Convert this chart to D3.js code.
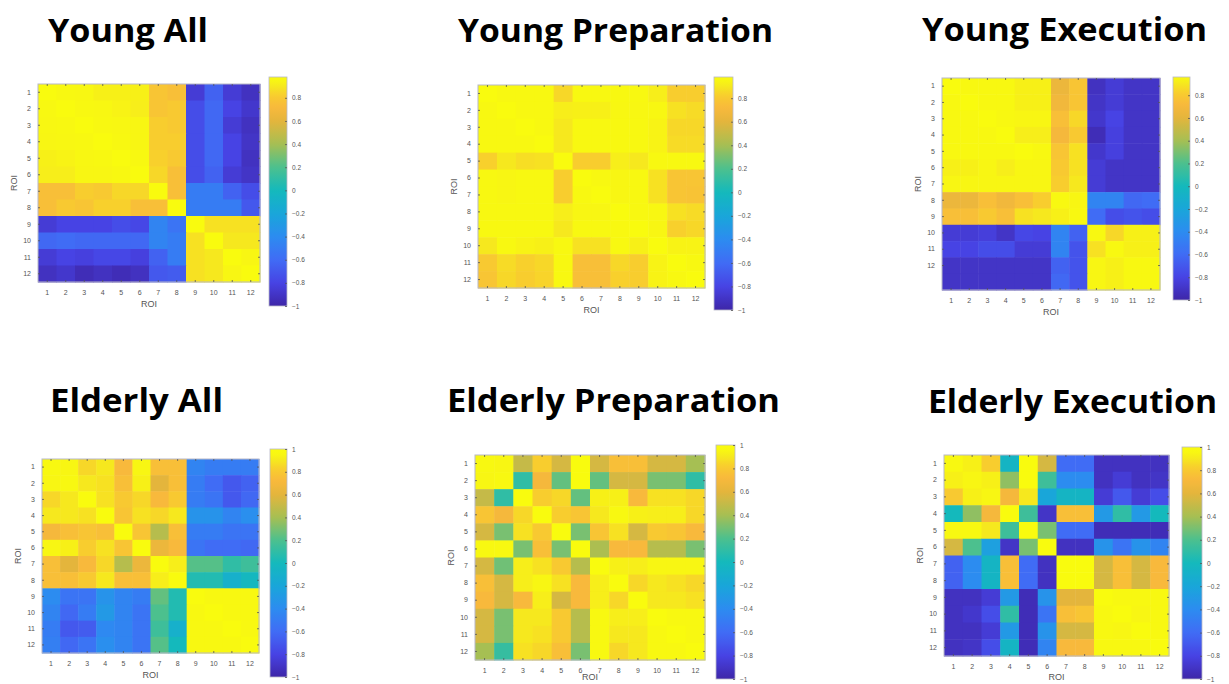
<!DOCTYPE html>
<html>
<head>
<meta charset="utf-8">
<script src="https://cdn.jsdelivr.net/npm/d3@7"></script>
<style>
  body { margin: 0; background: #fff; }
  svg { display: block; }
  .tick text { fill: #555; }
</style>
</head>
<body>
<svg id="chart" width="1229" height="684"></svg>
<script>
// ROI tick labels
const roiLabels = ["1","2","3","4","5","6","7","8","9","10","11","12"]
const cbTicksYoung = [0.8, 0.6, 0.4, 0.2, 0, -0.2, -0.4, -0.6, -0.8, -1]
const cbTicksElderly = [1, 0.8, 0.6, 0.4, 0.2, 0, -0.2, -0.4, -0.6, -0.8, -1]

// correlation matrices (rows = ROI)
const youngAll = [
  [1.00,0.97,0.96,0.93,0.93,0.93,0.78,0.75,-0.85,-0.65,-0.85,-0.92],
  [0.97,1.00,0.97,0.96,0.94,0.92,0.78,0.80,-0.75,-0.62,-0.80,-0.88],
  [0.96,0.97,1.00,0.97,0.96,0.95,0.82,0.80,-0.75,-0.62,-0.85,-0.92],
  [0.95,0.96,0.97,1.00,0.97,0.95,0.82,0.82,-0.75,-0.62,-0.80,-0.90],
  [0.93,0.94,0.96,0.97,1.00,0.97,0.83,0.80,-0.75,-0.62,-0.80,-0.92],
  [0.92,0.92,0.95,0.95,0.97,1.00,0.85,0.75,-0.75,-0.65,-0.85,-0.90],
  [0.75,0.75,0.82,0.80,0.85,0.85,1.00,0.75,-0.50,-0.50,-0.65,-0.75],
  [0.75,0.80,0.78,0.83,0.83,0.75,0.75,1.00,-0.50,-0.50,-0.50,-0.70],
  [-0.85,-0.80,-0.80,-0.80,-0.75,-0.78,-0.45,-0.55,1.00,0.88,0.88,0.88],
  [-0.62,-0.60,-0.62,-0.62,-0.62,-0.62,-0.45,-0.50,0.88,1.00,0.90,0.90],
  [-0.85,-0.80,-0.82,-0.78,-0.78,-0.82,-0.65,-0.50,0.88,0.90,1.00,0.95],
  [-0.92,-0.88,-0.95,-0.92,-0.95,-0.92,-0.70,-0.68,0.88,0.90,0.95,1.00]
]
const youngPrep = [
  [1.00,0.97,0.97,0.97,0.85,0.97,0.97,0.97,0.97,0.92,0.82,0.82],
  [0.97,1.00,0.97,0.97,0.92,0.93,0.93,0.96,0.96,0.96,0.88,0.86],
  [0.97,0.97,1.00,0.97,0.90,0.97,0.97,0.97,0.97,0.94,0.85,0.85],
  [0.97,0.97,0.97,1.00,0.90,0.97,0.97,0.97,0.97,0.94,0.86,0.86],
  [0.83,0.90,0.87,0.88,1.00,0.82,0.82,0.92,0.90,0.97,0.97,0.97],
  [0.97,0.95,0.97,0.97,0.82,1.00,0.97,0.95,0.97,0.88,0.78,0.78],
  [0.97,0.95,0.97,0.97,0.82,0.97,1.00,0.95,0.97,0.88,0.78,0.77],
  [0.97,0.97,0.97,0.97,0.92,0.95,0.95,1.00,0.97,0.96,0.88,0.86],
  [0.97,0.97,0.97,0.97,0.90,0.97,0.97,0.97,1.00,0.95,0.83,0.85],
  [0.90,0.97,0.94,0.93,0.97,0.88,0.88,0.97,0.93,1.00,0.94,0.94],
  [0.80,0.86,0.83,0.85,0.97,0.75,0.75,0.85,0.82,0.94,1.00,0.97],
  [0.78,0.85,0.82,0.84,0.97,0.75,0.75,0.83,0.82,0.94,0.97,1.00]
]
// this one has an extra unlabelled row at the bottom
const youngExec = [
  [1.00,0.97,0.97,0.97,0.93,0.93,0.65,0.78,-0.92,-0.85,-0.90,-0.90],
  [0.97,1.00,0.97,0.97,0.93,0.93,0.68,0.78,-0.90,-0.85,-0.90,-0.90],
  [0.97,0.97,1.00,0.97,0.95,0.95,0.75,0.85,-0.88,-0.80,-0.90,-0.90],
  [0.97,0.97,0.97,1.00,0.92,0.92,0.70,0.80,-0.95,-0.82,-0.90,-0.90],
  [0.97,0.97,0.97,0.97,1.00,0.97,0.78,0.88,-0.88,-0.82,-0.90,-0.90],
  [0.93,0.93,0.95,0.92,0.95,0.95,0.80,0.88,-0.85,-0.90,-0.90,-0.90],
  [0.95,0.95,0.95,0.95,0.95,0.95,0.82,0.90,-0.85,-0.90,-0.90,-0.90],
  [0.65,0.65,0.75,0.68,0.75,0.82,0.97,0.95,-0.45,-0.45,-0.62,-0.60],
  [0.75,0.75,0.80,0.75,0.88,0.90,0.93,0.97,-0.60,-0.75,-0.72,-0.75],
  [-0.85,-0.85,-0.83,-0.90,-0.78,-0.80,-0.45,-0.65,0.97,0.85,0.93,0.93],
  [-0.80,-0.80,-0.75,-0.75,-0.85,-0.85,-0.45,-0.72,0.88,0.97,0.93,0.93],
  [-0.90,-0.90,-0.90,-0.90,-0.90,-0.90,-0.65,-0.72,0.95,0.93,0.97,0.97],
  [-0.90,-0.90,-0.90,-0.90,-0.90,-0.90,-0.62,-0.72,0.95,0.93,0.97,0.97]
]
const elderlyAll = [
  [0.97,0.95,0.85,0.90,0.72,0.95,0.75,0.75,-0.45,-0.50,-0.50,-0.50],
  [0.95,0.97,0.90,0.88,0.75,0.93,0.60,0.75,-0.50,-0.60,-0.70,-0.65],
  [0.85,0.90,1.00,0.88,0.80,0.85,0.72,0.80,-0.50,-0.55,-0.70,-0.62],
  [0.90,0.90,0.88,1.00,0.78,0.88,0.85,0.90,-0.35,-0.35,-0.45,-0.38],
  [0.70,0.75,0.78,0.75,1.00,0.78,0.45,0.75,-0.50,-0.50,-0.55,-0.55],
  [0.95,0.93,0.82,0.88,0.78,1.00,0.65,0.72,-0.55,-0.60,-0.60,-0.62],
  [0.75,0.60,0.72,0.85,0.45,0.65,1.00,0.92,0.22,0.22,0.10,0.15],
  [0.75,0.75,0.80,0.90,0.75,0.75,0.92,1.00,0.05,0.05,-0.10,-0.02],
  [-0.40,-0.55,-0.55,-0.35,-0.45,-0.50,0.25,0.05,1.00,0.97,0.97,0.97],
  [-0.45,-0.62,-0.50,-0.30,-0.45,-0.55,0.20,0.05,0.97,1.00,0.97,0.97],
  [-0.50,-0.70,-0.68,-0.42,-0.45,-0.55,0.15,-0.10,0.97,0.97,1.00,0.97],
  [-0.48,-0.62,-0.55,-0.38,-0.45,-0.55,0.22,0.00,0.97,0.97,0.97,1.00]
]
const elderlyPrep = [
  [0.97,0.95,0.50,0.82,0.55,1.00,0.55,0.75,0.75,0.55,0.55,0.40],
  [0.95,0.97,0.10,0.70,0.25,1.00,0.25,0.55,0.55,0.30,0.30,0.10],
  [0.50,0.10,1.00,0.82,0.85,0.25,0.93,0.93,0.72,0.88,0.88,0.85],
  [0.78,0.70,0.85,1.00,0.82,0.78,0.90,0.97,0.93,0.92,0.92,0.85],
  [0.55,0.30,0.88,0.80,1.00,0.30,0.78,0.88,0.55,0.80,0.78,0.72],
  [0.97,0.97,0.30,0.75,0.30,1.00,0.42,0.72,0.72,0.45,0.45,0.30],
  [0.55,0.28,0.92,0.88,0.80,0.45,1.00,0.93,0.92,0.95,0.95,0.95],
  [0.75,0.55,0.92,0.95,0.88,0.72,0.92,1.00,0.85,0.90,0.88,0.85],
  [0.72,0.55,0.72,0.92,0.55,0.72,0.92,0.85,1.00,0.90,0.90,0.88],
  [0.55,0.30,0.90,0.90,0.80,0.45,0.97,0.92,0.92,1.00,0.97,0.97],
  [0.55,0.30,0.90,0.88,0.80,0.45,0.97,0.90,0.90,0.97,1.00,0.97],
  [0.40,0.12,0.88,0.85,0.75,0.30,0.97,0.85,0.90,0.97,0.97,1.00]
]
const elderlyExec = [
  [0.97,0.93,0.82,-0.05,1.00,0.55,-0.60,-0.60,-0.92,-0.92,-0.92,-0.92],
  [0.93,0.95,0.93,0.35,1.00,0.15,-0.40,-0.40,-0.92,-0.85,-0.92,-0.90],
  [0.80,0.93,0.95,0.70,0.90,-0.20,-0.05,-0.05,-0.85,-0.70,-0.85,-0.75],
  [0.00,0.35,0.70,1.00,0.15,-0.90,0.75,0.75,-0.30,0.10,-0.30,0.00],
  [0.97,0.97,0.90,0.15,1.00,0.30,-0.60,-0.60,-0.95,-0.95,-0.95,-0.95],
  [0.55,0.20,-0.25,-0.90,0.30,1.00,-0.92,-0.92,-0.35,-0.55,-0.35,-0.45],
  [-0.65,-0.40,-0.05,0.75,-0.60,-0.92,1.00,1.00,0.55,0.75,0.55,0.72],
  [-0.65,-0.40,-0.05,0.75,-0.60,-0.92,1.00,1.00,0.55,0.75,0.55,0.72],
  [-0.92,-0.92,-0.85,-0.30,-0.95,-0.35,0.60,0.60,1.00,0.97,0.97,0.97],
  [-0.92,-0.88,-0.75,0.10,-0.95,-0.55,0.75,0.78,0.97,1.00,0.95,0.97],
  [-0.92,-0.92,-0.85,-0.30,-0.95,-0.35,0.55,0.55,0.97,0.95,1.00,0.97],
  [-0.92,-0.90,-0.75,-0.05,-0.95,-0.45,0.72,0.72,0.97,0.97,0.97,1.00]
]

const titles = ["Young All","Young Preparation","Young Execution","Elderly All","Elderly Preparation","Elderly Execution"]

// parula-ish colour map, steep near the top like the picture
const parulaVals = [-1, -0.8, -0.6, -0.4, -0.2, 0, 0.2, 0.4, 0.6, 0.72, 0.82, 0.9, 0.95, 1]
const parulaCols = ["#3e26a8","#4743e4","#406cf5","#2c8cf0","#19a6d9","#14b9bc","#4cc08e","#a6bf53","#e4b53c","#f8b93c","#f8cd2e","#f6e81e","#f8f613","#f9fb0e"]
const color = d3.scaleLinear().domain(parulaVals).range(parulaCols).interpolate(d3.interpolateRgb).clamp(true)

// layout: frame box, colorbar box, title box
const panels = [
  {data: youngAll,    fx:[38,260],  fy:[84,282],  cx:[269,287],  cy:[77,306],  cmax:0.98, ticks:cbTicksYoung,   tx:[48,208],   ty:42},
  {data: youngPrep,   fx:[478,705], fy:[85,288],  cx:[714,733],  cy:[77,310],  cmax:0.98, ticks:cbTicksYoung,   tx:[458,773],  ty:42},
  {data: youngExec,   fx:[942,1160],fy:[78,290],  cx:[1173,1190],cy:[77,300],  cmax:0.96, ticks:cbTicksYoung,   tx:[922,1207], ty:41},
  {data: elderlyAll,  fx:[42,259],  fy:[459,653], cx:[270,287],  cy:[449,677], cmax:1,    ticks:cbTicksElderly, tx:[50,223],   ty:412},
  {data: elderlyPrep, fx:[475,705], fy:[455,660], cx:[716,735],  cy:[445,679], cmax:1,    ticks:cbTicksElderly, tx:[447,780],  ty:412},
  {data: elderlyExec, fx:[944,1169],fy:[455,656], cx:[1182,1202],cy:[447,679], cmax:1,    ticks:cbTicksElderly, tx:[928,1217], ty:413}
]

const svg = d3.select("#chart")
const defs = svg.append("defs")

panels.forEach((p, k) => {
  const g = svg.append("g")
  const nRows = p.data.length
  const nCols = p.data[0].length

  const x = d3.scaleBand().domain(d3.range(nCols)).range(p.fx)
  const y = d3.scaleBand().domain(d3.range(nRows)).range(p.fy)

  const cells = []
  p.data.forEach((row, i) => row.forEach((v, j) => cells.push({i, j, v})))

  g.selectAll(".cell")
    .data(cells)
    .join("rect")
      .attr("class", "cell")
      .attr("x", d => x(d.j))
      .attr("y", d => y(d.i))
      .attr("width", x.bandwidth() + 0.5)
      .attr("height", y.bandwidth() + 0.5)
      .attr("fill", d => color(d.v))

  // frame
  g.append("rect")
    .attr("x", p.fx[0]).attr("y", p.fy[0])
    .attr("width", p.fx[1] - p.fx[0]).attr("height", p.fy[1] - p.fy[0])
    .attr("fill", "none").attr("stroke", "#b8b8c8").attr("stroke-width", 1)

  const tickIdx = d3.range(roiLabels.length)

  g.append("g")
    .attr("transform", `translate(0,${p.fy[1]})`)
    .call(d3.axisBottom(x).tickValues(tickIdx).tickFormat(i => roiLabels[i]).tickSizeInner(-2).tickSizeOuter(0).tickPadding(8))
  g.append("g")
    .attr("transform", `translate(${p.fx[0]},0)`)
    .call(d3.axisLeft(y).tickValues(tickIdx).tickFormat(i => roiLabels[i]).tickSizeInner(-2).tickSizeOuter(0).tickPadding(7))
  g.append("g")
    .attr("transform", `translate(0,${p.fy[0]})`)
    .call(d3.axisTop(x).tickValues(tickIdx).tickFormat("").tickSizeInner(-2).tickSizeOuter(0))
  g.append("g")
    .attr("transform", `translate(${p.fx[1]},0)`)
    .call(d3.axisRight(y).tickValues(tickIdx).tickFormat("").tickSizeInner(-2).tickSizeOuter(0))

  g.selectAll(".domain").remove()
  g.selectAll(".tick line").attr("stroke", "#555").attr("stroke-width", 0.8)
  g.selectAll(".tick text").style("font", "7px 'Liberation Sans', Arial, sans-serif")

  // axis titles
  g.append("text")
    .attr("x", (p.fx[0] + p.fx[1]) / 2)
    .attr("y", Math.min(p.fy[1] + 25, 680))
    .attr("text-anchor", "middle")
    .style("font", "9px 'Liberation Sans', Arial, sans-serif")
    .attr("fill", "#555")
    .text("ROI")
  g.append("text")
    .attr("transform", `translate(${p.fx[0] - 21},${(p.fy[0] + p.fy[1]) / 2}) rotate(-90)`)
    .attr("text-anchor", "middle")
    .style("font", "9px 'Liberation Sans', Arial, sans-serif")
    .attr("fill", "#555")
    .text("ROI")

  // colorbar
  const cb = d3.scaleLinear().domain([-1, p.cmax]).range([p.cy[1], p.cy[0]])
  const grad = defs.append("linearGradient")
    .attr("id", "cb" + k)
    .attr("x1", 0).attr("y1", 1).attr("x2", 0).attr("y2", 0)
  d3.range(81).forEach(s => {
    const v = -1 + (p.cmax + 1) * s / 80
    grad.append("stop").attr("offset", s / 80).attr("stop-color", color(v))
  })
  g.append("rect")
    .attr("x", p.cx[0]).attr("y", p.cy[0])
    .attr("width", p.cx[1] - p.cx[0]).attr("height", p.cy[1] - p.cy[0])
    .attr("fill", `url(#cb${k})`)
    .attr("stroke", "#b8b8c8").attr("stroke-width", 0.8)

  const cbAxis = g.append("g")
    .attr("transform", `translate(${p.cx[1]},0)`)
    .call(d3.axisRight(cb).tickValues(p.ticks).tickFormat(d => d3.format("")(d)).tickSizeInner(-2).tickSizeOuter(0).tickPadding(5))
  cbAxis.select(".domain").remove()
  cbAxis.selectAll(".tick line").attr("stroke", "#555").attr("stroke-width", 0.8)
  cbAxis.selectAll(".tick text").style("font", "6.5px 'Liberation Sans', Arial, sans-serif")

  // panel title
  g.append("text")
    .attr("x", p.tx[0])
    .attr("y", p.ty)
    .attr("textLength", p.tx[1] - p.tx[0])
    .attr("lengthAdjust", "spacingAndGlyphs")
    .style("font", "bold 33px 'Open Sans', sans-serif")
    .attr("fill", "#000")
    .text(titles[k])
})
</script>
</body>
</html>
